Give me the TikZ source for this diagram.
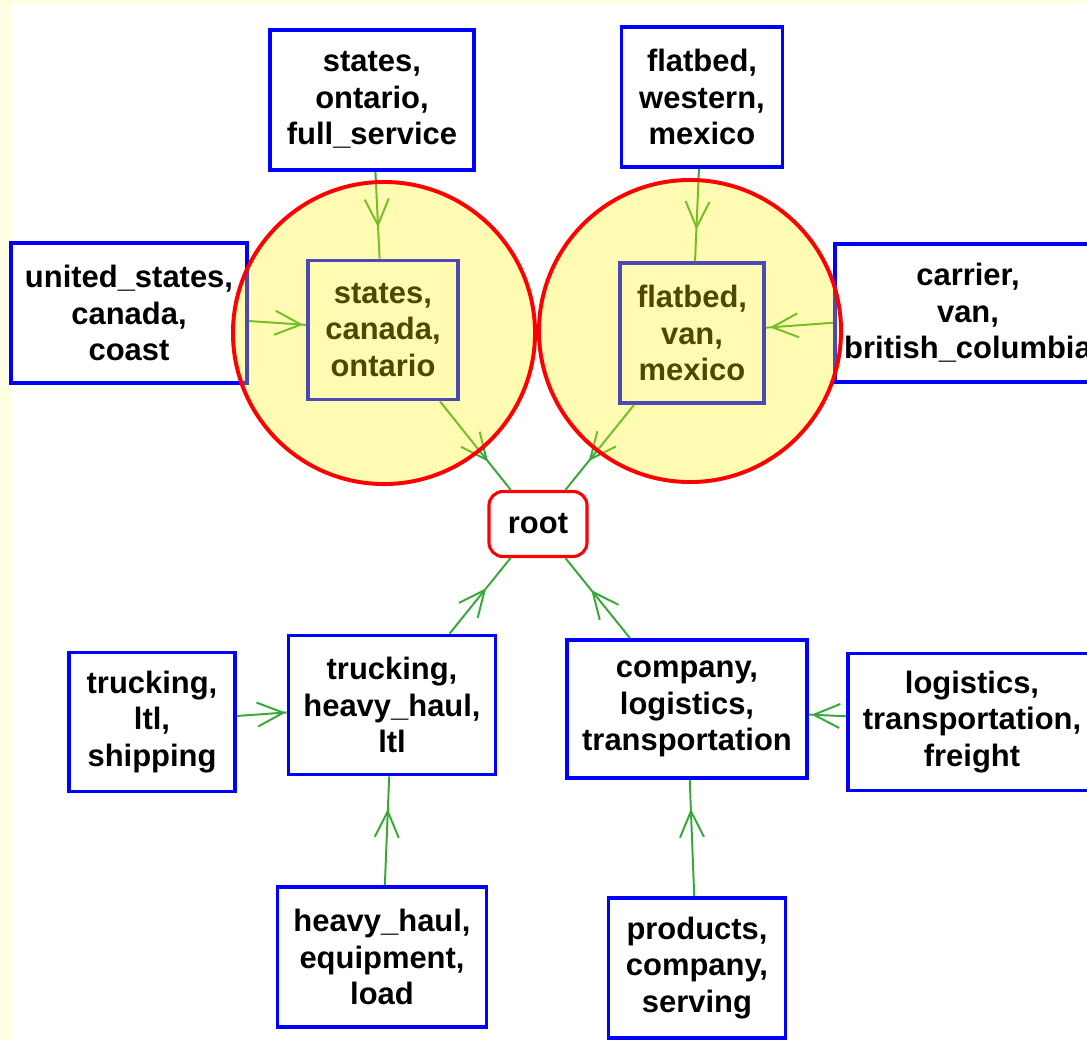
\documentclass[tikz,border=0pt]{standalone}
\usepackage{fontspec}
\setmainfont{Liberation Sans}
\usetikzlibrary{arrows.meta, decorations.markings}

\definecolor{boxblue}{RGB}{0,0,255}
\definecolor{linkgreen}{RGB}{56,168,56}
\definecolor{paleyellow}{RGB}{255,255,228}

\begin{document}
\begin{tikzpicture}[
  x=0.025cm, y=-0.025cm,
  box/.style = {draw=boxblue, line width=2.6pt, fill=white, minimum height=3.5cm,
    inner sep=0pt, align=center, font=\fontsize{22}{26}\selectfont\bfseries},
  rootbox/.style = {draw=red, line width=2.2pt, fill=white, rounded corners=0.35cm,
    minimum width=2.45cm, minimum height=1.625cm, inner sep=0pt,
    font=\fontsize{22}{26}\selectfont\bfseries},
  link/.style = {draw=linkgreen, line width=1.4pt, postaction={decorate},
    decoration={markings, mark=at position #1 with
      {\arrow[linkgreen, line width=1.4pt]{Straight Barb[length=6.5mm, width=6mm]}}}},
  link/.default = 0.6,
  focus/.style = {draw=red, line width=2.8pt, fill=yellow, fill opacity=0.3}
]
  \useasboundingbox (0,0) rectangle (1087,1040);
  \clip (0,0) rectangle (1087,1040);

  % page
  \fill[paleyellow] (0,0) rectangle (1087,1040);
  \fill[white] (11,4) rectangle (1087,1040);

  % upper left group
  \node[box, minimum width=5.1cm] (tl) at (372,100) {states,\\ontario,\\full\_service};
  \node[box, minimum width=5.9cm] (lft) at (129,313) {united\_states,\\canada,\\coast};
  \node[box, minimum width=3.75cm, minimum height=3.475cm] (inl) at (383,330) {states,\\canada,\\ontario};

  % upper right group
  \node[box, minimum width=4.025cm] (tr) at (702,97) {flatbed,\\western,\\mexico};
  \node[box, minimum width=6.65cm, minimum height=3.45cm] (carrier) at (968,313) {carrier,\\van,\\british\_columbia};
  \node[box, minimum width=3.6cm] (inr) at (692,333) {flatbed,\\van,\\mexico};

  % root
  \node[rootbox] (root) at (538,524) {root};

  % lower left group
  \node[box, minimum width=5.175cm, minimum height=3.475cm] (trk) at (392,705) {trucking,\\heavy\_haul,\\ltl};
  \node[box, minimum width=4.15cm, minimum height=3.475cm] (tls) at (152,722) {trucking,\\ltl,\\shipping};
  \node[box, minimum width=5.225cm] (hh) at (382,957) {heavy\_haul,\\equipment,\\load};

  % lower right group
  \node[box, minimum width=6.0cm, minimum height=3.45cm] (comp) at (687,709) {company,\\logistics,\\transportation};
  \node[box, minimum width=6.2cm, minimum height=3.425cm] (logi) at (972,722) {logistics,\\transportation,\\freight};
  \node[box, minimum width=4.425cm] (prod) at (697,968) {products,\\company,\\serving};

  % links
  \draw[link=0.64] (tl) -- (inl);
  \draw[link=0.95] (lft) -- (inl);
  \draw[link=0.68] (inl) -- (root);
  \draw[link=0.66] (tr) -- (inr);
  \draw[link=0.94] (carrier) -- (inr);
  \draw[link=0.66] (inr) -- (root);
  \draw[link=0.6] (trk) -- (root);
  \draw[link=0.6] (comp) -- (root);
  \draw[link=0.98] (tls) -- (trk);
  \draw[link=0.93] (logi) -- (comp);
  \draw[link=0.7] (hh) -- (trk);
  \draw[link=0.75] (prod) -- (comp);

  % highlighted nodes
  \draw[focus] (384,333) circle [radius=3.775cm];
  \draw[focus] (690,331) circle [radius=3.775cm];

\end{tikzpicture}
\end{document}
